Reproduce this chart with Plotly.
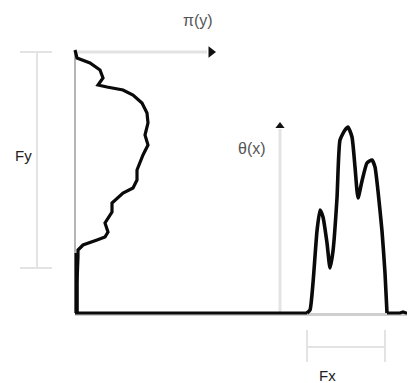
import plotly.graph_objects as go

# Coordinates: x = pixels right of the pi-axis, y = height above the baseline
# pi(y) profile: distance from the vertical axis (pi) at each height (h)
pi_vals = [0, 2, 15, 25, 28, 23, 32, 48, 58, 67, 72, 73, 70, 73, 68, 65, 62, 62, 58, 48, 40,
           37, 37, 33, 30, 33, 30, 22, 8, 3, 3, 2, 2]
pi_h = [263, 255, 250, 243, 235, 228, 226, 223, 218, 210, 200, 190, 178, 168, 158, 150, 143,
        133, 125, 120, 113, 110, 101, 95, 90, 81, 76, 73, 68, 63, 56, 30, 0]

# theta(x) profile: position along x and density height
theta_pos = [232, 235, 238, 242, 245, 248, 252, 255, 258, 262, 265, 270, 273, 277, 280,
             283, 287, 292, 297, 300, 303, 307, 310, 312]
theta_val = [0, 3, 30, 82, 103, 96, 70, 45, 62, 115, 173, 183, 186, 176, 146, 115, 132,
             150, 153, 146, 122, 82, 40, 0]
base_x = [0, 232]
base_y = [0, 0]
tail_x = [312, 325, 328, 331, 340]
tail_y = [0, 0, 1, 0, 0]

labels = {"pi": "π(y)", "theta": "θ(x)", "fy": "Fy", "fx": "Fx"}

GRAY = "#e3e3e3"
BLACK = "#0a0a0a"
fig = go.Figure()

# gray axes
fig.add_trace(go.Scatter(x=[0, 0], y=[0, 261], mode="lines", line=dict(color="#b5b5b5", width=2), hoverinfo="skip"))
fig.add_trace(go.Scatter(x=[0, 132], y=[261, 261], mode="lines", line=dict(color=GRAY, width=3), hoverinfo="skip"))
fig.add_trace(go.Scatter(x=[136], y=[261], mode="markers", marker=dict(symbol="triangle-right", size=10, color="#111"), hoverinfo="skip"))
fig.add_trace(go.Scatter(x=[205, 205], y=[0, 184], mode="lines", line=dict(color=GRAY, width=3), hoverinfo="skip"))
fig.add_trace(go.Scatter(x=[205], y=[187], mode="markers", marker=dict(symbol="triangle-up", size=8, color="#111"), hoverinfo="skip"))
fig.add_trace(go.Scatter(x=[0, 340], y=[-1.5, -1.5], mode="lines", line=dict(color="#cfcfcf", width=3), hoverinfo="skip"))

# Fy dimension
fig.add_trace(go.Scatter(x=[-38, -38], y=[45, 261], mode="lines", line=dict(color=GRAY, width=2), hoverinfo="skip"))
fig.add_trace(go.Scatter(x=[-55, -23], y=[261, 261], mode="lines", line=dict(color=GRAY, width=2), hoverinfo="skip"))
fig.add_trace(go.Scatter(x=[-55, -23], y=[45, 45], mode="lines", line=dict(color=GRAY, width=2), hoverinfo="skip"))
# Fx dimension
fig.add_trace(go.Scatter(x=[232, 310], y=[-34, -34], mode="lines", line=dict(color=GRAY, width=2), hoverinfo="skip"))
fig.add_trace(go.Scatter(x=[232, 232], y=[-17, -49], mode="lines", line=dict(color=GRAY, width=2), hoverinfo="skip"))
fig.add_trace(go.Scatter(x=[310, 310], y=[-17, -49], mode="lines", line=dict(color=GRAY, width=2), hoverinfo="skip"))

# black curves
fig.add_trace(go.Scatter(x=pi_vals, y=pi_h, mode="lines", line=dict(color=BLACK, width=3.2), hoverinfo="skip"))
fig.add_trace(go.Scatter(x=[1.5, 1.5], y=[0, 60], mode="lines", line=dict(color=BLACK, width=4), hoverinfo="skip"))
fig.add_trace(go.Scatter(x=base_x, y=base_y, mode="lines", line=dict(color=BLACK, width=3.2), hoverinfo="skip"))
fig.add_trace(go.Scatter(x=theta_pos, y=theta_val, mode="lines", line=dict(color=BLACK, width=3.6, shape="spline", smoothing=0.5), hoverinfo="skip"))
fig.add_trace(go.Scatter(x=tail_x, y=tail_y, mode="lines", line=dict(color=BLACK, width=3.2), hoverinfo="skip"))

fig.add_annotation(x=123, y=293, text=labels["pi"], showarrow=False, font=dict(family="Liberation Sans", size=16, color="#555"))
fig.add_annotation(x=177, y=165, text=labels["theta"], showarrow=False, font=dict(family="Liberation Sans", size=16, color="#555"))
fig.add_annotation(x=-52, y=158, text=labels["fy"], showarrow=False, font=dict(family="Liberation Sans", size=15, color="#222"))
fig.add_annotation(x=252, y=-62, text=labels["fx"], showarrow=False, font=dict(family="Liberation Sans", size=15, color="#222"))

# page body has an 8px default margin, so the figure is 407x375 placed at (8, 8)
fig.update_layout(
    width=407, height=375, margin=dict(l=0, r=0, t=0, b=0),
    paper_bgcolor="white", plot_bgcolor="white", showlegend=False,
    xaxis=dict(range=[-67, 340], visible=False, fixedrange=True),
    yaxis=dict(range=[-70, 305], visible=False, fixedrange=True),
)
fig.write_html("out.html")
